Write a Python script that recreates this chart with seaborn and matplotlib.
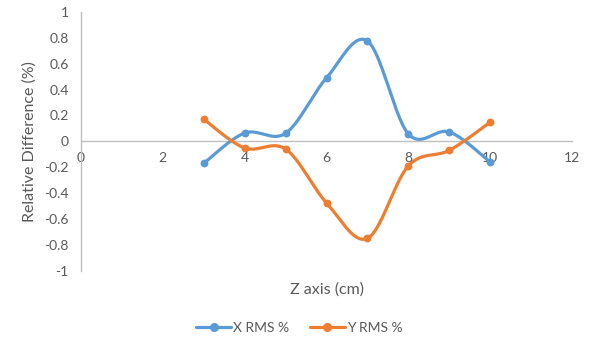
import numpy as np
import pandas as pd
import matplotlib
matplotlib.use("Agg")
import matplotlib.pyplot as plt
from matplotlib.lines import Line2D
import seaborn as sns

# Valeurs
z_cm = [3, 4, 5, 6, 7, 8, 9, 10]
x_rms = [-0.17, 0.064, 0.062, 0.49, 0.775, 0.057, 0.072, -0.16]
y_rms = [0.17, -0.052, -0.06, -0.476, -0.75, -0.19, -0.07, 0.147]
series_names = ["X RMS %", "Y RMS %"]
colors = ["#5B9BD5", "#ED7D31"]
x_ticks = [0, 2, 4, 6, 8, 10, 12]
y_ticks = [-1, -0.8, -0.6, -0.4, -0.2, 0, 0.2, 0.4, 0.6, 0.8, 1]


def smooth_curve(xs, ys, n=40):
    """Courbe lissee (Bezier type Catmull-Rom, comme Excel)."""
    p = np.column_stack([xs, ys]).astype(float)
    p_ext = np.vstack([p[0], p, p[-1]])
    out = []
    for i in range(1, len(p_ext) - 2):
        p0, p1, p2, p3 = p_ext[i - 1], p_ext[i], p_ext[i + 1], p_ext[i + 2]
        b1 = p1 + (p2 - p0) / 6
        b2 = p2 - (p3 - p1) / 6
        t = np.linspace(0, 1, n)[:, None]
        seg = ((1 - t) ** 3) * p1 + 3 * ((1 - t) ** 2) * t * b1 + 3 * (1 - t) * t ** 2 * b2 + t ** 3 * p2
        out.append(seg if i == 1 else seg[1:])
    c = np.vstack(out)
    return c[:, 0], c[:, 1]


sns.set_theme(style="white")
plt.rcParams["font.family"] = ["Lato", "DejaVu Sans"]
text_color = "#595959"
axis_color = "#BFBFBF"

fig = plt.figure(figsize=(5.93, 3.48), dpi=100)
ax = fig.add_axes([0.1366, 0.222, 0.828, 0.744])

for name, vals, col in zip(series_names, [x_rms, y_rms], colors):
    sx, sy = smooth_curve(z_cm, vals)
    curve = pd.DataFrame({"z": sx, "v": sy})
    sns.lineplot(data=curve, x="z", y="v", ax=ax, color=col, lw=2.3,
                 sort=False, estimator=None, zorder=3)
    pts = pd.DataFrame({"z": z_cm, "v": vals})
    sns.scatterplot(data=pts, x="z", y="v", ax=ax, color=col, s=32,
                    edgecolor=col, linewidth=0, zorder=4)

ax.set_xlim(0, 12)
ax.set_ylim(-1, 1)
ax.set_xticks(x_ticks)
ax.set_yticks(y_ticks)
ax.set_yticklabels([f"{v:g}" for v in y_ticks])

for s in ["top", "right"]:
    ax.spines[s].set_visible(False)
ax.spines["bottom"].set_position(("data", 0))
ax.spines["bottom"].set_color(axis_color)
ax.spines["left"].set_color(axis_color)
ax.spines["bottom"].set_linewidth(1.0)
ax.spines["left"].set_linewidth(1.0)

ax.tick_params(axis="both", length=0, labelsize=10, labelcolor=text_color)
ax.tick_params(axis="x", pad=8)
ax.tick_params(axis="y", pad=9)

ax.set_xlabel("Z axis (cm)", fontsize=11.5, color=text_color)
ax.set_ylabel("Relative Difference (%)", fontsize=11.5, color=text_color)
ax.xaxis.set_label_coords(0.5, -0.045)
ax.yaxis.set_label_coords(-0.09, 0.5)

handles = [Line2D([0], [0], color=c, lw=2.3, marker="o", markersize=5.5)
           for c in colors]
fig.legend(handles, series_names, loc="center", bbox_to_anchor=(0.505, 0.058),
           ncol=2, frameon=False, fontsize=10, labelcolor=text_color,
           handlelength=2.5, handletextpad=0.15, columnspacing=1.5)

fig.savefig("out.png", dpi=100)
plt.close(fig)
